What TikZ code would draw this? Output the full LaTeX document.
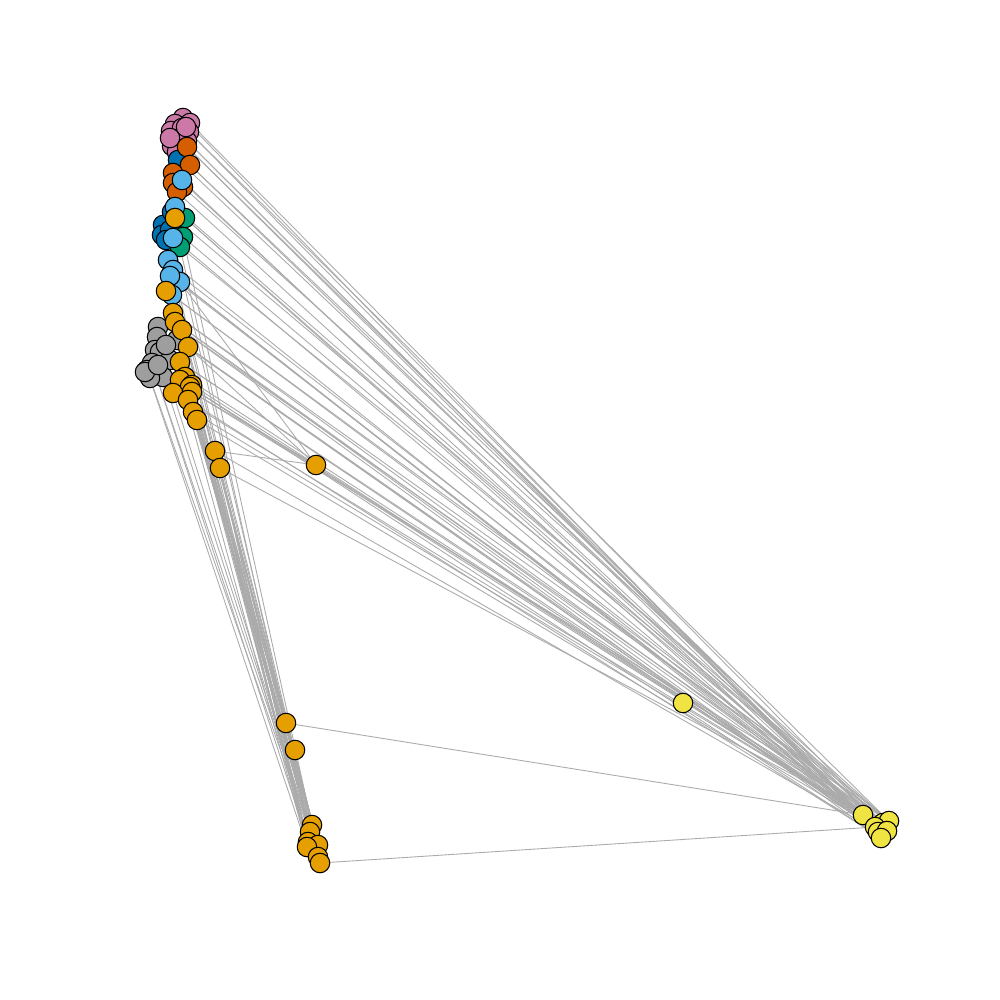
\documentclass[tikz,border=0pt]{standalone}
\pgfdeclarelayer{bg}
\pgfsetlayers{bg,main}
\definecolor{cpink}{HTML}{CC79A7}
\definecolor{cverm}{HTML}{D55E00}
\definecolor{csky}{HTML}{56B4E9}
\definecolor{cblue}{HTML}{0072B2}
\definecolor{cgreen}{HTML}{009E73}
\definecolor{corange}{HTML}{E69F00}
\definecolor{cgray}{HTML}{9E9E9E}
\definecolor{cyellow}{HTML}{F0E442}
\definecolor{edgegray}{HTML}{ABABAB}
\begin{document}
\begin{tikzpicture}[x=0.01cm,y=-0.01cm,
  nd/.style={circle,draw=black,line width=0.3pt,inner sep=0pt,minimum size=0.195cm},
  ed/.style={draw=edgegray,line width=0.25pt}]
\useasboundingbox (0,0) rectangle (1000,1000);
% pink
\foreach \n/\x/\y in {p1/183/118,p2/175/124,p3/190/123,p4/171/131,p5/182/128,p6/189/132,p7/174/139,p8/183/137,p9/179/146,p10/187/141,p11/172/146,p12/186/127,p13/177/152,p14/170/138}
  \node[nd,fill=cpink] (\n) at (\x,\y) {};
% blue
\foreach \n/\x/\y in {b1/178/160,b2/163/225,b3/162/235,b4/170/230,b5/172/212,b6/166/240}
  \node[nd,fill=cblue] (\n) at (\x,\y) {};
% vermillion
\foreach \n/\x/\y in {v1/187/147,v2/190/165,v3/173/173,v4/173/183,v5/183/187,v6/177/192}
  \node[nd,fill=cverm] (\n) at (\x,\y) {};
% green
\foreach \n/\x/\y in {g1/185/218,g2/183/237,g3/180/247}
  \node[nd,fill=cgreen] (\n) at (\x,\y) {};
% sky blue
\foreach \n/\x/\y in {s1/182/180,s2/175/207,s3/173/238,s4/168/260,s5/173/270,s6/180/282,s7/170/276,s8/172/295}
  \node[nd,fill=csky] (\n) at (\x,\y) {};
% gray
\foreach \n/\x/\y in {k1/158/327,k2/157/337,k3/177/340,k4/155/350,k5/160/352,k6/170/360,k7/152/363,k8/147/370,k9/155/372,k10/163/377,k11/150/378,k12/166/345,k13/145/372,k14/158/365}
  \node[nd,fill=cgray] (\n) at (\x,\y) {};
% orange
\foreach \n/\x/\y in {o1/175/218,o2/166/291,o3/173/313,o4/175/322,o5/182/330,o6/188/347,o7/180/362,o8/185/377,o27/180/380,o28/192/385,o9/190/387,o10/192/392,o11/173/393,o12/188/400,o13/193/412,o14/197/420,o15/215/451,o16/220/468,o17/316/465,o18/286/723,o19/295/750,o20/312/825,o21/310/832,o22/308/842,o23/318/845,o24/307/847,o25/318/857,o26/320/863}
  \node[nd,fill=corange] (\n) at (\x,\y) {};
% yellow
\foreach \n/\x/\y in {y1/683/703,y2/863/815,y3/883/823,y4/889/821,y8/875/827,y5/878/832,y6/887/831,y7/881/838}
  \node[nd,fill=cyellow] (\n) at (\x,\y) {};
\begin{pgfonlayer}{bg}
\fill[white] (0,0) rectangle (1000,1000);
% top group to yellow
\foreach \a/\b in {p3/y3,p6/y4,p10/y2,p8/y5,v1/y6,v1/y2,v2/y3,v2/y8,s1/y7,v5/y4,b1/y6,p6/y8,v6/y5,s2/y3,g1/y2,g1/y7,o1/y4,g2/y6,p1/y7,v3/y2}
  \draw[ed] (\a) -- (\b);
% column to yellow
\foreach \a/\b in {s4/y2,s5/y3,s6/y5,s6/y8,o2/y4,o3/y6,o4/y2,o5/y7,o5/y3,o6/y8,o6/y5,o7/y2,o8/y6,o9/y3,o10/y4,o12/y7,o13/y2,o14/y8,k3/y5,o15/y5,o16/y3,g3/y4,s3/y8,o28/y6,o27/y7,s7/y2,s8/y3,o3/y4,o4/y5,o7/y8,o9/y6,o11/y2}
  \draw[ed] (\a) -- (\b);
% to the lone orange node
\foreach \a/\b in {o15/o17,o6/o17,o10/o17,s6/o17}
  \draw[ed] (\a) -- (\b);
% bundle to the bottom group
\foreach \a/\b in {o13/o20,o14/o21,o14/o22,o12/o23,o10/o24,o9/o25,o15/o20,o16/o22,o16/o24,o16/o26,o13/o25,o8/o21,o7/o22,o6/o23,o11/o26,o5/o20,o14/o25,o13/o26,o12/o20,o10/o21,o9/o22,o28/o23,o27/o24,o15/o23,o16/o21,o14/o18,o13/o19}
  \draw[ed] (\a) -- (\b);
% gray to bottom
\foreach \a/\b in {k9/o22,k8/o24,k11/o26,k10/o25,k7/o21}
  \draw[ed] (\a) -- (\b);
% upper column to bottom
\foreach \a/\b in {s3/o20,g3/o21,s5/o23,s7/o22,o2/o25,o4/o26,s8/o24,b3/o23,g2/o20}
  \draw[ed] (\a) -- (\b);
% bottom to yellow
\draw[ed] (o18) -- (y2);
\draw[ed] (o26) -- (y8);
\end{pgfonlayer}
\end{tikzpicture}
\end{document}
